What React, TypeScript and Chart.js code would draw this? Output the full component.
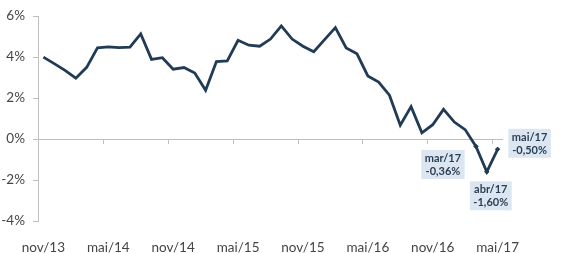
import React, { useEffect, useRef } from "react";
import { Chart, registerables } from "chart.js";

Chart.register(...registerables);

const months: string[] = [
  "nov/13", "dez/13", "jan/14", "fev/14", "mar/14", "abr/14", "mai/14", "jun/14", "jul/14", "ago/14", "set/14", "out/14",
  "nov/14", "dez/14", "jan/15", "fev/15", "mar/15", "abr/15", "mai/15", "jun/15", "jul/15", "ago/15", "set/15", "out/15",
  "nov/15", "dez/15", "jan/16", "fev/16", "mar/16", "abr/16", "mai/16", "jun/16", "jul/16", "ago/16", "set/16", "out/16",
  "nov/16", "dez/16", "jan/17", "fev/17", "mar/17", "abr/17", "mai/17",
];

const values: number[] = [
  4.0, 3.68, 3.35, 2.97, 3.5, 4.45, 4.5, 4.46, 4.48, 5.13, 3.89, 3.97,
  3.41, 3.49, 3.22, 2.38, 3.78, 3.81, 4.82, 4.58, 4.53, 4.88, 5.52, 4.88,
  4.53, 4.26, 4.85, 5.44, 4.45, 4.16, 3.08, 2.78, 2.14, 0.67, 1.58, 0.3,
  0.7, 1.45, 0.83, 0.46, -0.36, -1.6, -0.5,
];

const labelEvery = 6;
const yMin = -4;
const yMax = 6;
const yStep = 2;

// annotated points: index, text lines, offset of box centre from the point
const annotations = [
  { index: 40, lines: ["mar/17", "-0,36%"], dx: -33, dy: 18 },
  { index: 41, lines: ["abr/17", "-1,60%"], dx: 4, dy: 24 },
  { index: 42, lines: ["mai/17", "-0,50%"], dx: 32, dy: -6 },
];

const LINE = "#213a55";
const AXIS = "#bfbfbf";
const TEXT = "#454545";

const overlayPlugin = {
  id: "overlay",
  afterDatasetsDraw(chart: any) {
    const ctx = chart.ctx;
    const x = chart.scales.x;
    const y = chart.scales.y;
    const y0 = y.getPixelForValue(0);
    ctx.save();
    // tick marks on the zero line
    ctx.strokeStyle = AXIS;
    ctx.lineWidth = 1;
    for (let i = labelEvery; i < months.length; i += labelEvery) {
      const px = Math.round((x.getPixelForValue(i) + x.getPixelForValue(i - 1)) / 2) + 0.5;
      ctx.beginPath();
      ctx.moveTo(px, y0);
      ctx.lineTo(px, y0 + 5);
      ctx.stroke();
    }
    // annotation boxes
    ctx.font = "bold 11px Lato";
    ctx.textAlign = "center";
    ctx.textBaseline = "middle";
    const lh = 13;
    annotations.forEach((a) => {
      const px = x.getPixelForValue(a.index);
      const py = y.getPixelForValue(values[a.index]);
      const cx = px + a.dx;
      const cy = py + a.dy;
      const w = Math.max(...a.lines.map((l) => ctx.measureText(l).width)) + 7;
      const h = a.lines.length * lh + 3;
      ctx.fillStyle = "#dce6f1";
      ctx.fillRect(cx - w / 2, cy - h / 2, w, h);
      ctx.fillStyle = "#2a3f55";
      a.lines.forEach((l, k) => {
        ctx.fillText(l, cx, cy - ((a.lines.length - 1) * lh) / 2 + k * lh + 0.5);
      });
    });
    ctx.restore();
  },
};

export default function App() {
  const ref = useRef<HTMLCanvasElement | null>(null);
  useEffect(() => {
    document.body.style.margin = "0";
    const canvas = ref.current;
    if (!canvas) return;
    const chart = new Chart(canvas, {
      type: "line",
      data: {
        labels: months,
        datasets: [
          {
            data: values,
            borderColor: LINE,
            backgroundColor: LINE,
            borderWidth: 2.8,
            tension: 0,
            pointStyle: "rectRot",
            pointRadius: values.map((_, i) => (annotations.some((a) => a.index === i) ? 2.2 : 0)),
            pointBackgroundColor: LINE,
            pointBorderColor: LINE,
            pointBorderWidth: 1,
          },
        ],
      },
      options: {
        animation: false,
        responsive: false,
        maintainAspectRatio: false,
        layout: { padding: { left: 0, right: 64, top: 12, bottom: 0 } },
        plugins: {
          legend: { display: false },
          tooltip: { enabled: false },
          title: { display: false },
        },
        scales: {
          x: {
            type: "category",
            offset: true,
            grid: { display: false },
            border: { display: false },
            afterFit: (s: any) => {
              s.height = 32;
            },
            ticks: {
              autoSkip: false,
              maxRotation: 0,
              minRotation: 0,
              padding: 11,
              color: TEXT,
              font: { family: "Lato", size: 13.5 },
              callback: (_v: any, i: number) => (i % labelEvery === 0 ? months[i] : ""),
            },
          },
          y: {
            min: yMin,
            max: yMax,
            afterFit: (s: any) => {
              s.width = 38;
            },
            grid: {
              drawOnChartArea: true,
              color: (c: any) => (c.tick && c.tick.value === 0 ? AXIS : "rgba(0,0,0,0)"),
              tickColor: AXIS,
              tickLength: 5,
            },
            border: { display: true, color: AXIS },
            ticks: {
              stepSize: yStep,
              padding: 8,
              color: TEXT,
              font: { family: "Lato", size: 13.5 },
              callback: (v: any) => `${v}%`,
            },
          },
        },
      },
      plugins: [overlayPlugin],
    });
    return () => chart.destroy();
  }, []);
  return (
    <div style={{ width: 567, height: 253, background: "#fff" }}>
      <canvas ref={ref} width={567} height={253} style={{ display: "block" }} />
    </div>
  );
}
